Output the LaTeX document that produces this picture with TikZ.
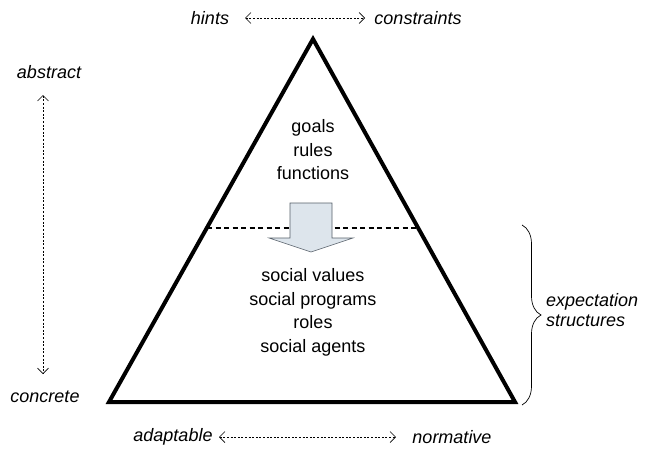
\documentclass[tikz,border=0pt]{standalone}
\usepackage{fontspec}
\setmainfont{Liberation Sans}
\usetikzlibrary{arrows.meta,decorations.pathreplacing}
\definecolor{arrowfill}{HTML}{DDE5EC}
\definecolor{arrowline}{HTML}{555F68}
\begin{document}
\begin{tikzpicture}[x=1pt,y=-1pt,
  lbl/.style={font=\fontsize{18}{20}\selectfont, inner sep=0pt, anchor=base},
  ilbl/.style={font=\fontsize{18}{20}\selectfont\itshape, inner sep=0pt},
  dimarrow/.style={line width=0.7pt, dash pattern=on 2pt off 1.6pt, {Straight Barb[length=5.5pt,width=11pt,line width=0.7pt]}-{Straight Barb[length=5.5pt,width=11pt,line width=0.7pt]}},
  tri/.style={line width=4pt, line join=miter}]
\useasboundingbox (0,0) rectangle (654,455);
% triangle
\coordinate (apex) at (313,39);
\coordinate (bl) at (109,402);
\coordinate (br) at (515,402);
\draw[tri] (apex) -- (bl) -- (br) -- cycle;
% dashed divider
\coordinate (dl) at (207,228);
\coordinate (dr) at (419,228);
\draw[line width=1.3pt, dash pattern=on 5pt off 3.5pt] (dl) -- (dr);
% big arrow
\draw[fill=arrowfill, draw=arrowline, line width=0.6pt]
  (290,203) -- (332,203) -- (332,238) -- (353,238) -- (311,252) -- (269,238) -- (290,238) -- cycle;
% inner texts
\node[lbl] (goals) at (313,132) {goals};
\node[lbl] (rules) at (313,156) {rules};
\node[lbl] (functions) at (313,179) {functions};
\node[lbl] (values) at (313,281) {social values};
\node[lbl] (programs) at (313,305) {social programs};
\node[lbl] (roles) at (313,328) {roles};
\node[lbl] (agents) at (313,352) {social agents};
% top
\node[ilbl] (hints) at (210,18) {hints};
\node[ilbl] (constraints) at (418,18) {constraints};
\coordinate (h1) at (245,18);
\coordinate (c1) at (365,18);
\draw[dimarrow] (h1) -- (c1);
% left
\node[ilbl] (abstract) at (49,72) {abstract};
\node[ilbl] (concrete) at (45,397) {concrete};
\coordinate (a1) at (43,95);
\coordinate (c2) at (43,374);
\draw[dimarrow] (a1) -- (c2);
% bottom
\node[ilbl] (adaptable) at (173,437) {adaptable};
\node[ilbl] (normative) at (452,437) {normative};
\coordinate (ad1) at (219,437);
\coordinate (n1) at (396,437);
\draw[dimarrow] (ad1) -- (n1);
% brace
\coordinate (b1) at (522,225);
\coordinate (b2) at (522,405);
\draw[line width=0.7pt, decorate, decoration={brace, amplitude=19pt, aspect=0.5}] (b1) -- (b2);
\node[ilbl, anchor=west, align=left] (expect) at (546,310) {expectation\\structures};
\end{tikzpicture}
\end{document}
